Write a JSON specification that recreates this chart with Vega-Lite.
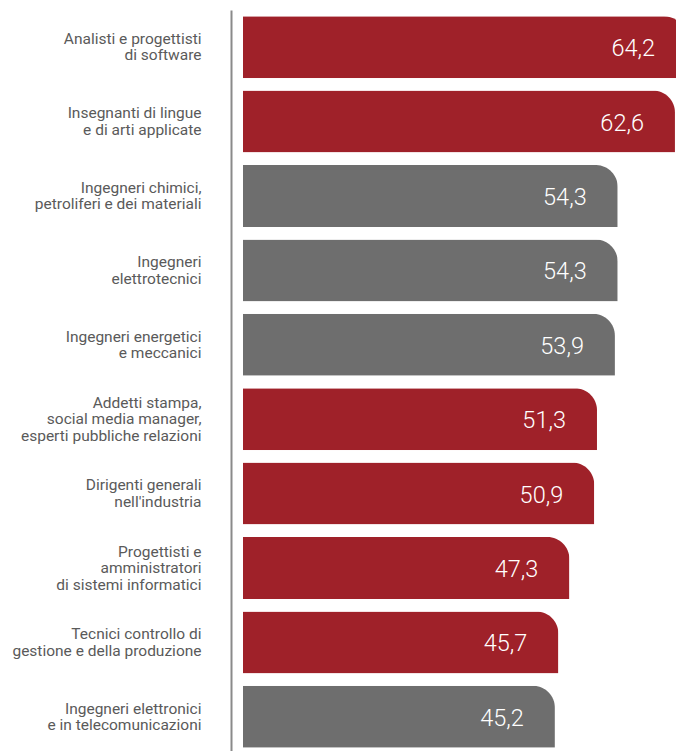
{
  "$schema": "https://vega.github.io/schema/vega-lite/v6.json",
  "autosize": "none",
  "padding": {"left": 243, "top": 10, "right": 0, "bottom": 0},
  "width": 433,
  "height": 744,
  "background": "white",
  "config": {
    "view": {"stroke": null}
  },
  "data": {
    "values": [
      {"ordine": 1, "professione": "Analisti e progettisti|di software", "valore": 64.2, "etichetta": "64,2", "tipo": "rosso"},
      {"ordine": 2, "professione": "Insegnanti di lingue|e di arti applicate", "valore": 62.6, "etichetta": "62,6", "tipo": "rosso"},
      {"ordine": 3, "professione": "Ingegneri chimici,|petroliferi e dei materiali", "valore": 54.3, "etichetta": "54,3", "tipo": "grigio"},
      {"ordine": 4, "professione": "Ingegneri|elettrotecnici", "valore": 54.3, "etichetta": "54,3", "tipo": "grigio"},
      {"ordine": 5, "professione": "Ingegneri energetici|e meccanici", "valore": 53.9, "etichetta": "53,9", "tipo": "grigio"},
      {"ordine": 6, "professione": "Addetti stampa,|social media manager,|esperti pubbliche relazioni", "valore": 51.3, "etichetta": "51,3", "tipo": "rosso"},
      {"ordine": 7, "professione": "Dirigenti generali|nell'industria", "valore": 50.9, "etichetta": "50,9", "tipo": "rosso"},
      {"ordine": 8, "professione": "Progettisti e|amministratori|di sistemi informatici", "valore": 47.3, "etichetta": "47,3", "tipo": "rosso"},
      {"ordine": 9, "professione": "Tecnici controllo di|gestione e della produzione", "valore": 45.7, "etichetta": "45,7", "tipo": "rosso"},
      {"ordine": 10, "professione": "Ingegneri elettronici|e in telecomunicazioni", "valore": 45.2, "etichetta": "45,2", "tipo": "grigio"}
    ]
  },
  "layer": [
    {
      "mark": {"type": "bar", "cornerRadiusTopRight": 22},
      "encoding": {
        "y": {
          "field": "professione",
          "type": "nominal",
          "sort": {"field": "ordine", "order": "ascending"},
          "scale": {"paddingInner": 0.167, "paddingOuter": 0.083},
          "axis": {
            "title": null,
            "offset": 12,
            "domain": true,
            "domainColor": "#8a8a8a",
            "domainWidth": 2,
            "ticks": false,
            "labelPadding": 30,
            "labelFont": "Roboto",
            "labelFontSize": 15.5,
            "labelColor": "#5a5a5a",
            "labelLineHeight": 16.5,
            "labelLimit": 300,
            "labelExpr": "split(datum.label, '|')",
            "labelOffset": {"expr": "-(length(split(datum.value, '|')) - 1) * 8.25"}
          }
        },
        "x": {
          "field": "valore",
          "type": "quantitative",
          "scale": {"domain": [0, 62.75], "nice": false},
          "axis": null
        },
        "color": {
          "field": "tipo",
          "type": "nominal",
          "scale": {"domain": ["rosso", "grigio"], "range": ["#9f2129", "#6e6e6e"]},
          "legend": null
        }
      }
    },
    {
      "mark": {
        "type": "text",
        "align": "right",
        "baseline": "middle",
        "dx": -31,
        "dy": 2,
        "font": "Roboto",
        "fontWeight": 300,
        "fontSize": 23.5,
        "color": "#ffffff"
      },
      "encoding": {
        "y": {"field": "professione", "type": "nominal", "sort": {"field": "ordine", "order": "ascending"}},
        "x": {"field": "valore", "type": "quantitative"},
        "text": {"field": "etichetta", "type": "nominal"}
      }
    }
  ]
}
